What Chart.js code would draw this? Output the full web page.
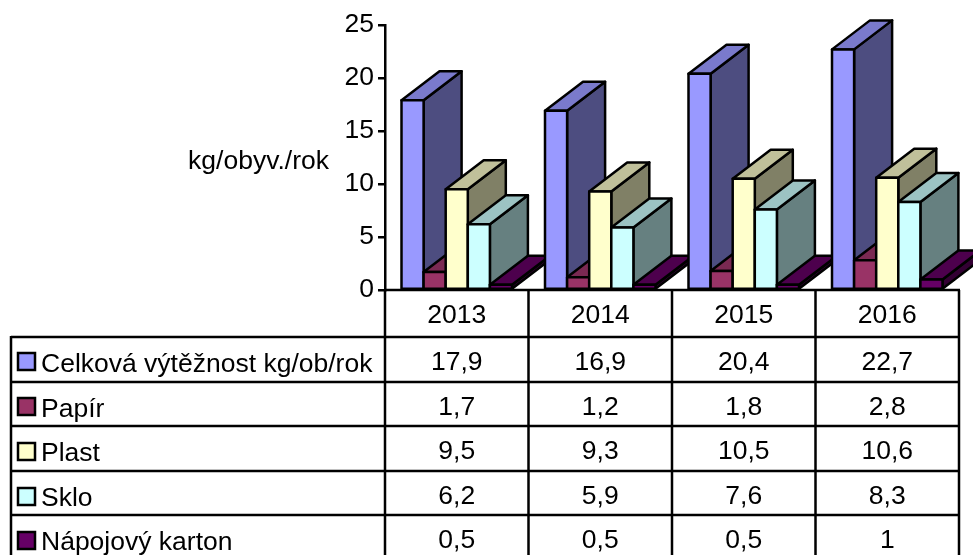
<!DOCTYPE html>
<html>
<head>
<meta charset="utf-8">
<style>
  html, body { margin: 0; padding: 0; background: #fff; overflow: hidden; }
  #wrap { position: relative; width: 973px; height: 555px; }
</style>
<script src="https://cdn.jsdelivr.net/npm/chart.js@4/dist/chart.umd.min.js"></script>
</head>
<body>
<div id="wrap"><canvas id="chart"></canvas></div>
<script>
const years = ["2013", "2014", "2015", "2016"];
const seriesNames = ["Celková výtěžnost kg/ob/rok", "Papír", "Plast", "Sklo", "Nápojový karton"];
const celkova = [17.9, 16.9, 20.4, 22.7];
const papir = [1.7, 1.2, 1.8, 2.8];
const plast = [9.5, 9.3, 10.5, 10.6];
const sklo = [6.2, 5.9, 7.6, 8.3];
const karton = [0.5, 0.5, 0.5, 1];
const seriesValues = [celkova, papir, plast, sklo, karton];

const frontColors = ["#9999FF", "#993366", "#FFFFCC", "#CCFFFF", "#660066"];
const topColors = ["#7A7ACC", "#7A2952", "#C0C09A", "#9CC3C3", "#4D004D"];
const sideColors = ["#4D4D80", "#4D1A33", "#808066", "#668080", "#330033"];

const FONT_FAMILY = "'Liberation Sans', Arial, sans-serif";
const FONT_SIZE = 26.5;
const LINE = 2.5;
const DEPTH_X = 38;
const DEPTH_Y = 29;

function face(ctx, points, fill) {
    ctx.beginPath();
    points.forEach((p, i) => (i ? ctx.lineTo(p[0], p[1]) : ctx.moveTo(p[0], p[1])));
    ctx.closePath();
    ctx.fillStyle = fill;
    ctx.fill();
    ctx.stroke();
}

// Excel-style depth: every bar gets a top and a side, then its own front again.
const bars3d = {
    id: "bars3d",
    afterDatasetsDraw(chart) {
        const ctx = chart.ctx;
        ctx.save();
        ctx.strokeStyle = "#000";
        ctx.lineWidth = LINE;
        ctx.lineJoin = "round";
        years.forEach((_, c) => {
            seriesValues.forEach((_, s) => {
                const bar = chart.getDatasetMeta(s).data[c];
                const l = bar.x - bar.width / 2;
                const r = bar.x + bar.width / 2;
                face(ctx, [[r, bar.y], [r + DEPTH_X, bar.y - DEPTH_Y], [r + DEPTH_X, bar.base - DEPTH_Y], [r, bar.base]], sideColors[s]);
                face(ctx, [[l, bar.y], [l + DEPTH_X, bar.y - DEPTH_Y], [r + DEPTH_X, bar.y - DEPTH_Y], [r, bar.y]], topColors[s]);
                face(ctx, [[l, bar.y], [r, bar.y], [r, bar.base], [l, bar.base]], frontColors[s]);
            });
        });
        ctx.restore();
    },
};

// Data table under the plot, with the legend keys in its first column.
const dataTable = {
    id: "dataTable",
    afterDraw(chart) {
        const ctx = chart.ctx;
        const xs = chart.scales.x;
        const step = xs.width / years.length;
        const rowTops = [337, 382, 426, 471, 515];
        const keyTops = [353, 398, 443, 488, 532];
        const tableLeft = 11;
        const bottom = 555;
        ctx.save();
        ctx.strokeStyle = "#000";
        ctx.lineWidth = LINE;
        ctx.beginPath();
        rowTops.forEach(y => { ctx.moveTo(tableLeft, y); ctx.lineTo(xs.right, y); });
        ctx.moveTo(tableLeft, rowTops[0] - 1);
        ctx.lineTo(tableLeft, bottom);
        ctx.moveTo(xs.left, xs.top);
        ctx.lineTo(xs.right + 1, xs.top);
        for (let i = 0; i <= years.length; i++) {
            ctx.moveTo(xs.left + i * step, xs.top);
            ctx.lineTo(xs.left + i * step, bottom);
        }
        ctx.stroke();

        ctx.font = FONT_SIZE + "px " + FONT_FAMILY;
        ctx.fillStyle = "#000";
        ctx.textBaseline = "alphabetic";
        seriesNames.forEach((name, s) => {
            ctx.fillStyle = frontColors[s];
            ctx.fillRect(18, keyTops[s], 17, 17);
            ctx.strokeRect(18, keyTops[s], 17, 17);
            ctx.fillStyle = "#000";
            ctx.textAlign = "left";
            ctx.fillText(name, 41, rowTops[s] + 35);
            ctx.textAlign = "center";
            seriesValues[s].forEach((v, c) => {
                ctx.fillText(String(v).replace(".", ","), xs.getPixelForTick(c), rowTops[s] + 33);
            });
        });
        ctx.textAlign = "right";
        ctx.fillText("kg/obyv./rok", 329, 169);
        ctx.restore();
    },
};

new Chart(document.getElementById("chart"), {
    type: "bar",
    data: {
        labels: years,
        datasets: seriesNames.map((name, s) => ({
            label: name,
            data: seriesValues[s],
            backgroundColor: frontColors[s],
            borderColor: "#000",
            borderWidth: 0,
        })),
    },
    options: {
        responsive: true,
        maintainAspectRatio: false,
        animation: false,
        categoryPercentage: 0.77,
        barPercentage: 1,
        layout: { padding: { top: 25, right: 14, left: 0, bottom: 0 } },
        plugins: {
            legend: { display: false },
            title: { display: false },
            tooltip: { enabled: false },
        },
        scales: {
            x: {
                afterFit(axis) { axis.height = 265; },
                grid: { display: false },
                border: { display: false },
                ticks: {
                    color: "#000",
                    padding: 2,
                    maxRotation: 0,
                    font: { family: FONT_FAMILY, size: FONT_SIZE },
                },
            },
            y: {
                min: 0,
                max: 25,
                afterFit(axis) { axis.width = 385; },
                grid: { drawOnChartArea: false, color: "#000", lineWidth: LINE, tickLength: 7 },
                border: { display: true, color: "#000", width: LINE },
                ticks: {
                    stepSize: 5,
                    color: "#000",
                    padding: 4,
                    font: { family: FONT_FAMILY, size: FONT_SIZE },
                },
            },
        },
    },
    plugins: [bars3d, dataTable],
});
</script>
</body>
</html>
